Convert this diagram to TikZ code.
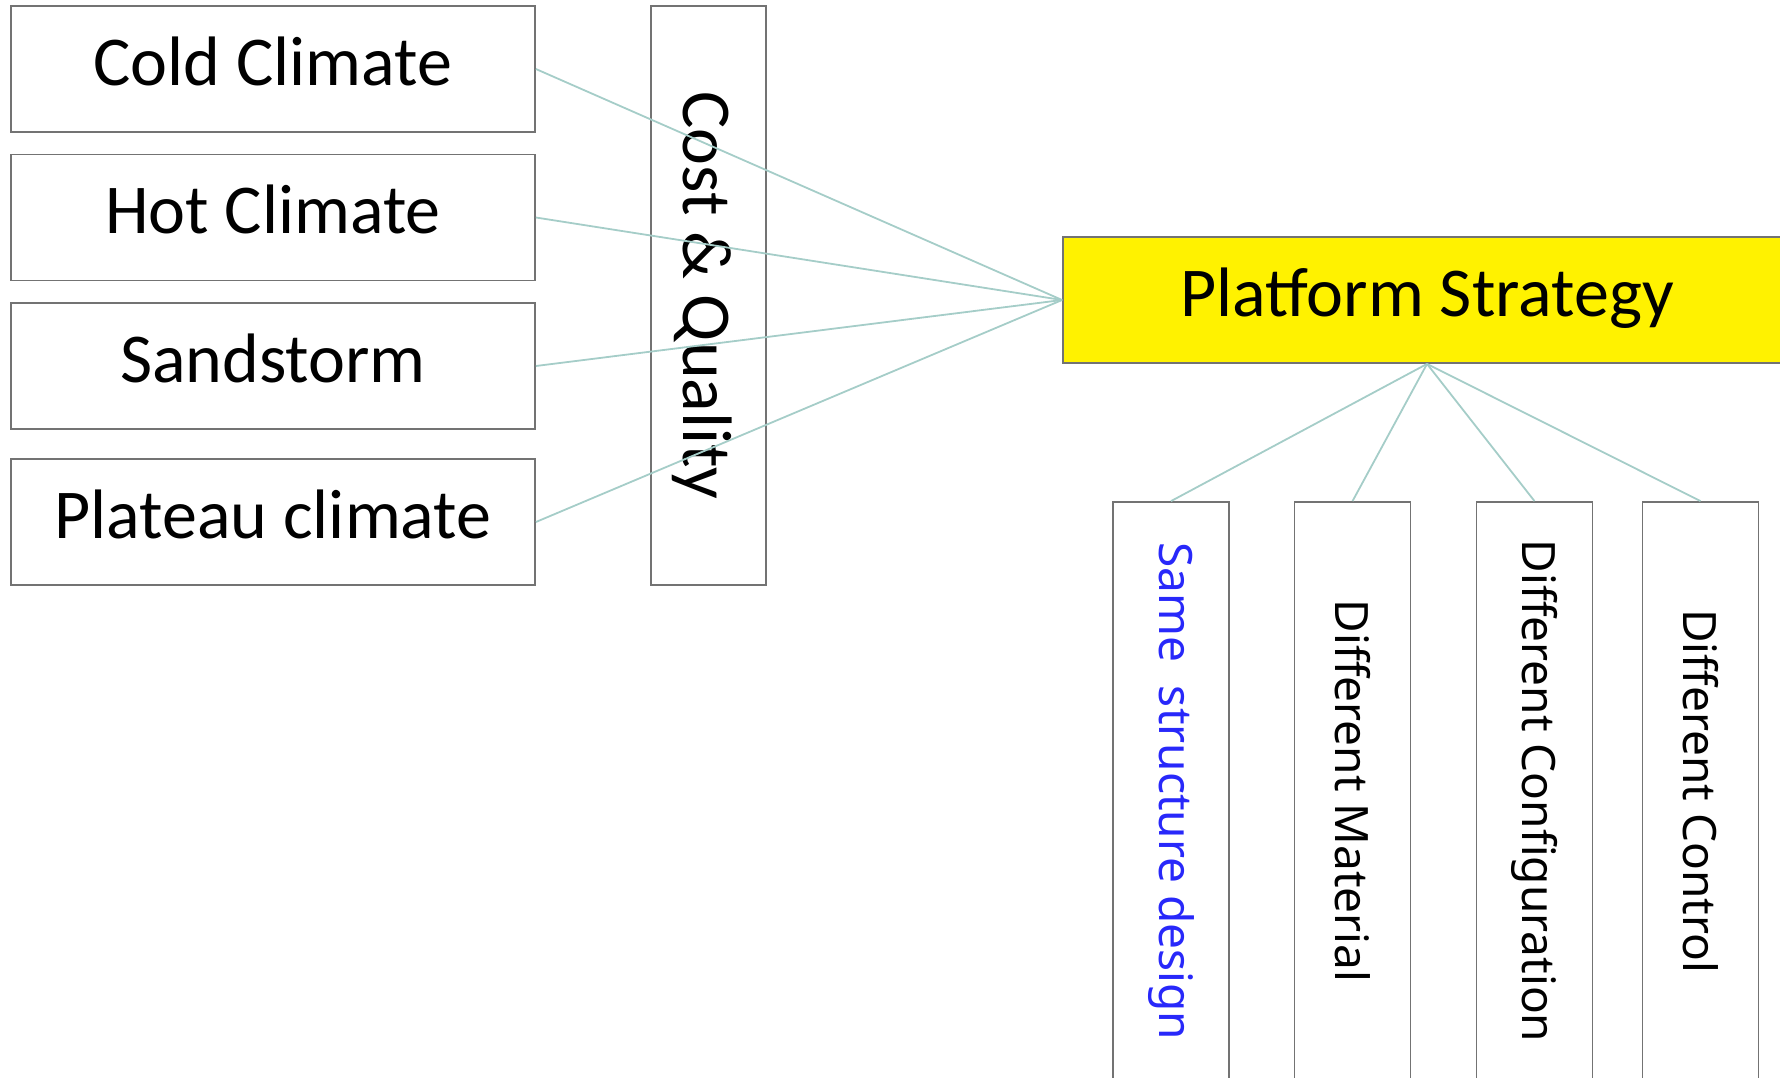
\documentclass[tikz,border=0pt]{standalone}
\usepackage{fontspec}
\setmainfont{Carlito}
\newfontfamily\vfont{Noto Sans}
\definecolor{linkc}{RGB}{165,205,200}
\definecolor{edgec}{RGB}{115,115,115}
\definecolor{samec}{RGB}{40,40,250}
\begin{document}
\begin{tikzpicture}[x=0.5pt, y=-0.5pt, font=\fontsize{35}{42}\selectfont,
  box/.style={draw=edgec, line width=0.9pt, inner sep=0pt},
  flat/.style={box, text height=26pt, text depth=10pt},
  link/.style={draw=linkc, line width=0.9pt}]
  \useasboundingbox (0,0) rectangle (1780,1077);
  % climates on the left
  \foreach \y/\n/\t in {69/cold/{Cold Climate}, 217.5/hot/{Hot Climate}, 366/sand/{Sandstorm}, 522/plateau/{Plateau climate}} {
    \node[flat, minimum width=262pt, minimum height=63pt] (\n) at (273,\y) {\t};
  }
  \node[box, rotate=-90, text height=30pt, text depth=5pt, minimum width=289.5pt, minimum height=57.5pt] (cost) at (708.5,295.5) {Cost \& Quality};
  \node[flat, fill=yellow, minimum width=364pt, minimum height=63pt] (platform) at (1427,300) {Platform Strategy};
  \foreach \n in {cold, hot, sand, plateau}
    \draw[link] (\n.east) -- (platform.west);
  % what the platform gives
  \foreach \x/\n/\c/\t in {1171/same/samec/{Same\ \ structure design}, 1352.5/material/black/{Different Material}, 1534.5/config/black/{Different Configuration}, 1700.5/control/black/{Different Control}} {
    \node[box, rotate=-90, minimum width=289pt, minimum height=58pt, text=\c, font=\vfont\fontsize{23}{28}\selectfont] (\n) at (\x,791) {\t};
    \draw[link] (platform.south) -- (\n.west);
  }
\end{tikzpicture}
\end{document}
